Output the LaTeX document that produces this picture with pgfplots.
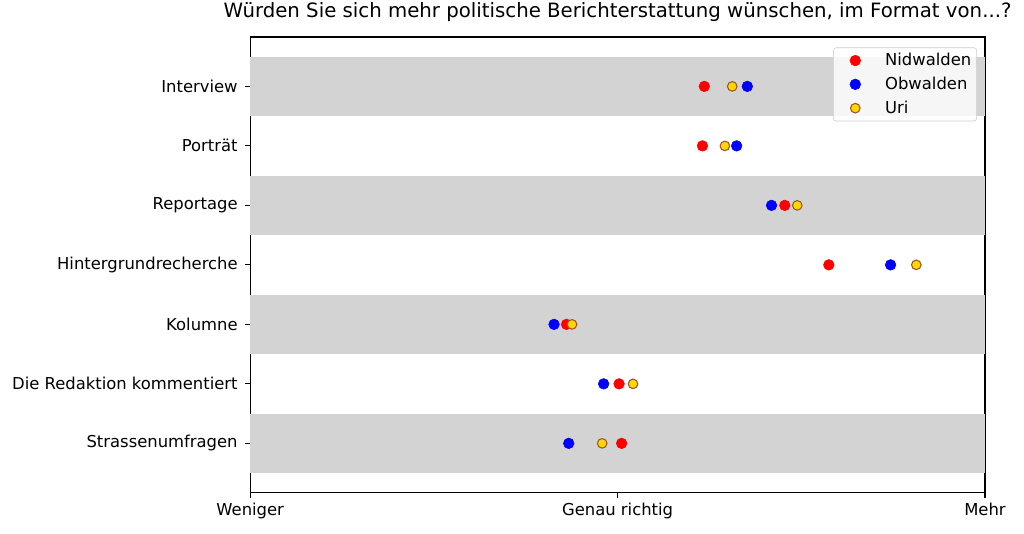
\documentclass[border=0pt]{standalone}
\usepackage{fontspec}
\setmainfont{DejaVu Sans}
\usepackage{pgfplots}
\pgfplotsset{compat=1.18}

\definecolor{band}{HTML}{D3D3D3}
\definecolor{urifill}{HTML}{FFD700}
\definecolor{uriedge}{HTML}{A0522D}

\begin{document}
\begin{tikzpicture}
\useasboundingbox (-187.65pt,-30.2pt) rectangle (580.35pt,369.55pt);
\begin{axis}[
    at={(0,0)}, anchor=south west,
    scale only axis,
    width=551.1pt, height=341.8pt,
    xmin=-1, xmax=1,
    ymin=-0.83, ymax=6.83,
    xtick={-1,0,1},
    xticklabels={Weniger, Genau richtig, Mehr},
    ytick={0,1,2,3,4,5,6},
    yticklabels={Strassenumfragen, Die Redaktion kommentiert, Kolumne,
                 Hintergrundrecherche, Reportage, Porträt, Interview},
    xtick pos=bottom, ytick pos=left,
    tick align=outside,
    major tick length=3.7pt,
    axis line style={line width=0.85pt},
    major tick style={black, line width=0.85pt},
    tick label style={font=\fontsize{12.3}{14}\selectfont},
    yticklabel style={xshift=-2.2pt},
    xticklabel style={yshift=-0.8pt},
    title={Würden Sie sich mehr politische Berichterstattung wünschen, im Format von...?},
    title style={font=\fontsize{14.8}{17}\selectfont, at={(0.5,1)}, anchor=base, yshift=8.3pt},
    legend style={at={(0.989,0.977)}, anchor=north east,
        draw=black!20, rounded corners=2pt, fill=white, fill opacity=0.8, text opacity=1,
        font=\fontsize{12.3}{14}\selectfont, row sep=3pt, inner xsep=2pt, inner ysep=2.2pt},
    legend image code/.code={\path (-14pt,0) (20pt,0);
        \draw[#1, fill opacity=1, draw opacity=1] plot coordinates {(0pt,0pt)};},
    legend cell align=left,
    clip=false,
]
% background bands
\addplot[fill=band, draw=none, forget plot] coordinates {(-1,-0.5) (1,-0.5) (1,0.5) (-1,0.5)} -- cycle;
\addplot[fill=band, draw=none, forget plot] coordinates {(-1,1.5) (1,1.5) (1,2.5) (-1,2.5)} -- cycle;
\addplot[fill=band, draw=none, forget plot] coordinates {(-1,3.5) (1,3.5) (1,4.5) (-1,4.5)} -- cycle;
\addplot[fill=band, draw=none, forget plot] coordinates {(-1,5.5) (1,5.5) (1,6.5) (-1,6.5)} -- cycle;

% Nidwalden
\addplot[only marks, mark=*, mark size=4pt, draw=red, fill=red] coordinates {
    (0.011,0) (0.004,1) (-0.139,2) (0.575,3) (0.455,4) (0.231,5) (0.236,6)};
\addlegendentry{Nidwalden}
% Obwalden
\addplot[only marks, mark=*, mark size=4pt, draw=blue, fill=blue] coordinates {
    (-0.133,0) (-0.038,1) (-0.173,2) (0.743,3) (0.419,4) (0.324,5) (0.353,6)};
\addlegendentry{Obwalden}
% Uri
\addplot[only marks, mark=*, mark size=3.6pt, draw=uriedge, fill=urifill, line width=0.8pt] coordinates {
    (-0.042,0) (0.042,1) (-0.124,2) (0.813,3) (0.489,4) (0.292,5) (0.312,6)};
\addlegendentry{Uri}
\end{axis}
\end{tikzpicture}
\end{document}
